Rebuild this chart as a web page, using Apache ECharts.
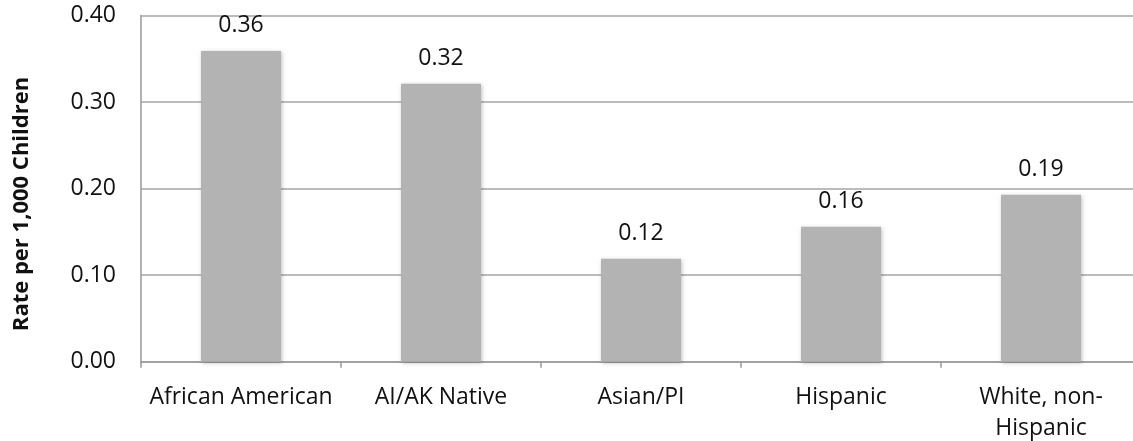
<!DOCTYPE html>
<html>
<head>
<meta charset="utf-8">
<script src="https://cdn.jsdelivr.net/npm/echarts@6/dist/echarts.min.js"></script>
<style>
html,body{margin:0;padding:0;background:#fff;}
#c{width:1133px;height:441px;}
</style>
</head>
<body>
<div id="c"></div>
<script>
const categories = ['African American', 'AI/AK Native', 'Asian/PI', 'Hispanic', 'White, non-\nHispanic'];
const rates = [0.359, 0.321, 0.119, 0.156, 0.193];
const yTicks = [0, 0.1, 0.2, 0.3, 0.4];
const yTitle = 'Rate per 1,000 Children';

const FONT = 'Open Sans';
const chart = echarts.init(document.getElementById('c'), null, {renderer: 'canvas'});
chart.setOption({
  animation: false,
  backgroundColor: '#fff',
  grid: {left: 141, width: 1000, top: 15.5, bottom: 79.3, containLabel: false, outerBoundsMode: 'none'},
  xAxis: {
    type: 'category',
    data: categories,
    axisLine: {lineStyle: {color: '#999', width: 1.5}},
    axisTick: {show: true, length: 6, lineStyle: {color: '#999', width: 1.5}},
    axisLabel: {color: '#111', fontFamily: FONT, fontSize: 23, margin: 20, lineHeight: 31, interval: 0}
  },
  yAxis: {
    type: 'value',
    min: yTicks[0],
    max: yTicks[yTicks.length - 1],
    interval: 0.1,
    axisLine: {show: true, lineStyle: {color: '#999', width: 1.5}},
    axisTick: {show: false},
    splitLine: {lineStyle: {color: '#a6a6a6', width: 1.5}},
    axisLabel: {color: '#111', fontFamily: FONT, fontSize: 23, margin: 25, formatter: v => v.toFixed(2)}
  },
  graphic: [{
    type: 'text',
    x: 22, y: 204,
    rotation: Math.PI / 2,
    style: {text: yTitle, fill: '#111', font: 'bold 22px "Open Sans"', align: 'center', verticalAlign: 'middle'}
  }],
  series: [{
    type: 'bar',
    data: rates,
    barWidth: 80,
    itemStyle: {color: '#b3b3b3', shadowBlur: 4, shadowColor: 'rgba(0,0,0,0.25)', shadowOffsetX: 1, shadowOffsetY: 1},
    label: {show: true, position: 'top', distance: 14, color: '#111', fontFamily: FONT, fontSize: 23, formatter: p => p.value.toFixed(2)}
  }]
});
</script>
</body>
</html>
